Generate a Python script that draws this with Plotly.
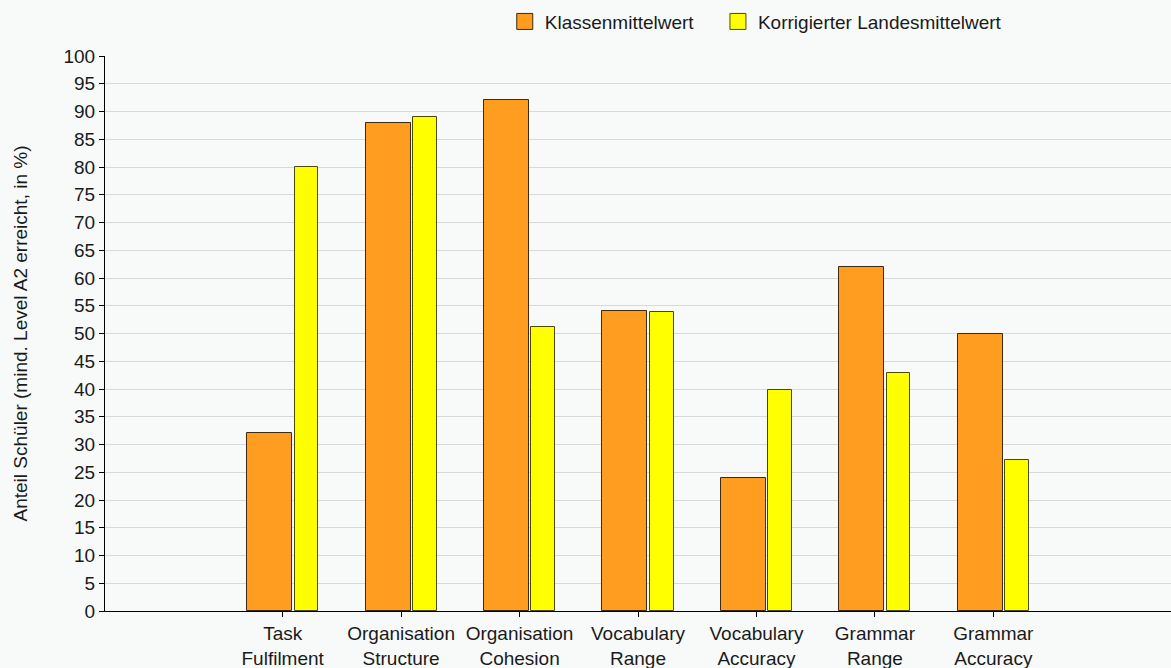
import plotly.graph_objects as go

categories = ["Task<br>Fulfilment", "Organisation<br>Structure", "Organisation<br>Cohesion",
              "Vocabulary<br>Range", "Vocabulary<br>Accuracy", "Grammar<br>Range", "Grammar<br>Accuracy"]
klassen = [32, 88, 92, 54, 24, 62, 50]
landes = [80, 89, 51.2, 53.8, 39.8, 42.8, 27.2]
series_names = ["Klassenmittelwert", "Korrigierter Landesmittelwert"]
y_ticks = list(range(0, 101, 5))

ORANGE = "#FF9D21"
YELLOW = "#FFFF00"
BG = "#F8FAFA"
FONT = "Liberation Sans, Arial, sans-serif"
FS = 19

xpos = list(range(len(categories)))

fig = go.Figure()
fig.add_trace(go.Bar(x=xpos, y=klassen, name=series_names[0], width=0.38, offset=-0.30,
                     marker=dict(color=ORANGE, line=dict(color="#3d2a12", width=1)),
                     showlegend=False))
fig.add_trace(go.Bar(x=xpos, y=landes, name=series_names[1], width=0.20, offset=0.10,
                     marker=dict(color=YELLOW, line=dict(color="#4a4a10", width=1)),
                     showlegend=False))
# legend proxies
fig.add_trace(go.Scatter(x=[None], y=[None], mode="markers", name=series_names[0],
                         legend="legend",
                         marker=dict(symbol="square", size=16, color=ORANGE,
                                     line=dict(color="#3d2a12", width=1))))
fig.add_trace(go.Scatter(x=[None], y=[None], mode="markers", name=series_names[1],
                         legend="legend2",
                         marker=dict(symbol="square", size=16, color=YELLOW,
                                     line=dict(color="#4a4a10", width=1))))

legend_common = dict(orientation="h", xanchor="left", y=1.062, yanchor="middle",
                     bgcolor="rgba(0,0,0,0)", font=dict(size=FS), itemsizing="trace")

fig.update_layout(
    width=1171, height=668,
    margin=dict(l=105, r=0, t=56, b=57),
    paper_bgcolor=BG, plot_bgcolor=BG,
    font=dict(family=FONT, size=FS, color="#1a1a1a"),
    showlegend=True,
    legend=dict(x=0.375, **legend_common),
    legend2=dict(x=0.575, **legend_common),
    bargap=0,
)
fig.update_xaxes(
    range=[-1.5, 7.5], tickvals=xpos, ticktext=categories,
    showline=True, linecolor="#000000", linewidth=1,
    ticks="outside", ticklen=5, tickcolor="#000000",
    showgrid=False, zeroline=False, tickfont=dict(size=FS),
)
fig.update_yaxes(
    range=[0, 100], tickvals=y_ticks,
    showline=True, linecolor="#000000", linewidth=1,
    ticks="outside", ticklen=5, tickcolor="#000000",
    showgrid=True, gridcolor="#D9D9D9", gridwidth=1, zeroline=False,
    tickfont=dict(size=FS),
    title=dict(text="Anteil Schüler (mind. Level A2 erreicht, in %)", font=dict(size=FS), standoff=30),
)

fig.write_html("out.html", config={"displayModeBar": False},
               post_script="document.body.style.margin='0';document.body.style.padding='0';")
